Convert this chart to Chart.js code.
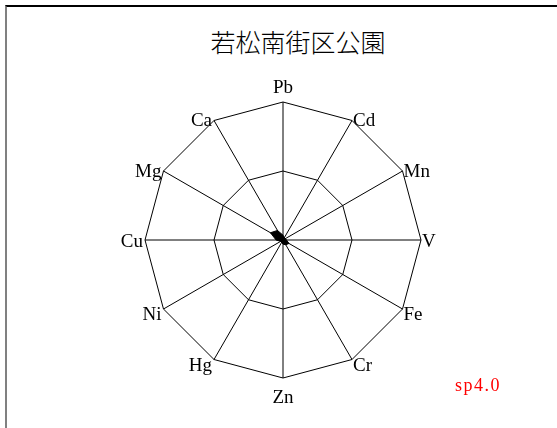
<!DOCTYPE html>
<html>
<head>
<meta charset="utf-8">
<script src="https://cdn.jsdelivr.net/npm/chart.js@4"></script>
<style>
  html, body { margin: 0; padding: 0; background: #fff; overflow: hidden; }
  body { width: 557px; height: 428px; position: relative; }
  #frame { position: absolute; left: 5px; top: 5px; width: 600px; height: 440px;
           border-left: 2px solid #808080; border-top: 2px solid #000; }
  #wrap { position: absolute; left: 0; top: 0; width: 557px; height: 428px; }
  #title { position: absolute; left: 0; top: 29px; width: 596px; text-align: center;
           font: 300 25px/25px "Noto Sans CJK JP", sans-serif; color: #000; }
  #sp { position: absolute; left: 455px; top: 376px; color: #ff0000; letter-spacing: 1.5px;
        font: 18px/18px "Liberation Serif", serif; }
</style>
</head>
<body>
<div id="frame"></div>
<div id="title"></div>
<div id="wrap"><canvas id="radarCanvas"></canvas></div>
<div id="sp">sp4.0</div>
<script>
var titleText = "若松南街区公園";
var elements = ["Pb", "Cd", "Mn", "V", "Fe", "Cr", "Zn", "Hg", "Ni", "Cu", "Mg", "Ca"];
var values = [0.07, 0.04, 0.04, 0.05, 0.1, 0.08, 0.06, 0.04, 0.04, 0.1, 0.21, 0.16];
var scaleMax = 2;

document.getElementById("title").textContent = titleText;

// labels sit right at the polygon corners, text beside the vertex
var cornerLabels = {
    id: "cornerLabels",
    afterDraw(chart) {
        var scale = chart.scales.r;
        var c = chart.ctx;
        c.save();
        c.fillStyle = "#000";
        c.font = "19px 'Liberation Serif', serif";
        c.textBaseline = "alphabetic";
        elements.forEach(function (name, i) {
            var p = scale.getPointPosition(i, scale.drawingArea);
            var dx = p.x - scale.xCenter;
            var dy = p.y - scale.yCenter;
            var shift = dy < -1 ? 6 : (dy > 1 ? 11 : 7);
            if (Math.abs(dx) < 1) {
                c.textAlign = "center";
                if (dy < 0) c.fillText(name, p.x, p.y - 9);
                else c.fillText(name, p.x, p.y + 25);
            } else if (dx < 0) {
                c.textAlign = "right";
                c.fillText(name, p.x - 2, p.y + shift);
            } else {
                c.textAlign = "left";
                c.fillText(name, p.x + 1, p.y + shift);
            }
        });
        c.restore();
    }
};

var ctx = document.getElementById("radarCanvas").getContext("2d");
var radarChart = new Chart(ctx, {
    type: "radar",
    data: {
        labels: elements,
        datasets: [{
            data: values,
            backgroundColor: "#000",
            borderColor: "#000",
            borderWidth: 1,
            pointRadius: 0,
            fill: true
        }]
    },
    options: {
        responsive: true,
        maintainAspectRatio: false,
        animation: false,
        layout: { padding: { left: 145, right: 136, top: 102, bottom: 50 } },
        plugins: {
            legend: { display: false },
            tooltip: { enabled: false },
            title: { display: false }
        },
        scales: {
            r: {
                min: 0,
                max: scaleMax,
                ticks: { display: false, stepSize: 1 },
                grid: { color: "#000", lineWidth: 1 },
                angleLines: { color: "#000", lineWidth: 1 },
                pointLabels: { display: false }
            }
        }
    },
    plugins: [cornerLabels]
});
</script>
</body>
</html>
